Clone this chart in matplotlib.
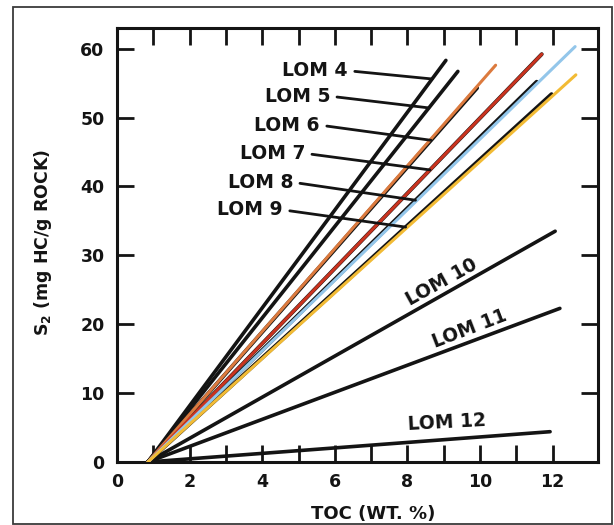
import matplotlib
matplotlib.use("Agg")
import matplotlib.pyplot as plt
from matplotlib.patches import Rectangle

# ---- data ----
lom_names = ["LOM 4", "LOM 5", "LOM 6", "LOM 7", "LOM 8", "LOM 9", "LOM 10", "LOM 11", "LOM 12"]
start_x = 0.85
start_y = 0.0
lom_end_x = [9.06, 9.39, 9.92, 11.70, 11.56, 11.97, 12.07, 12.20, 11.93]
lom_end_y = [58.3, 56.7, 54.3, 59.2, 55.2, 53.4, 33.5, 22.3, 4.4]

overlay_names = ["LOM 6", "LOM 7", "LOM 8", "LOM 9"]
overlay_end_x = [10.43, 11.70, 12.62, 12.64]
overlay_end_y = [57.6, 59.2, 60.3, 56.2]
overlay_colors = ["#dc7a3e", "#c9331f", "#93c6ea", "#f2bb35"]

x_major = [0, 2, 4, 6, 8, 10, 12]
x_minor = [1, 3, 5, 7, 9, 11]
y_major = [0, 10, 20, 30, 40, 50, 60]

# leader-labelled lines: label text anchor (right edge) and leader end height
leader_names = ["LOM 4", "LOM 5", "LOM 6", "LOM 7", "LOM 8", "LOM 9"]
leader_text_x = [6.36, 5.87, 5.59, 5.18, 4.85, 4.57]
leader_text_y = [56.8, 53.1, 48.9, 44.8, 40.6, 36.6]
leader_end_y = [55.6, 51.4, 46.7, 42.4, 38.0, 34.1]

# rotated labels along lines
rot_names = ["LOM 10", "LOM 11", "LOM 12"]
rot_x = [8.93, 9.72, 9.09]
rot_y = [26.1, 19.4, 5.7]
rot_angle = [29, 21, 3]

# ---- figure ----
fig = plt.figure(figsize=(6.14, 5.25), dpi=100)
ax = fig.add_axes([117 / 614, 1 - 462 / 525, (598 - 117) / 614, (462 - 28) / 525])

ink = "#141414"
for i, name in enumerate(lom_names):
    ax.plot([start_x, lom_end_x[i]], [start_y, lom_end_y[i]], color=ink,
            lw=2.6 if name not in overlay_names else 2.8,
            solid_capstyle="round", zorder=3)
for i, name in enumerate(overlay_names):
    ax.plot([start_x, overlay_end_x[i]], [start_y, overlay_end_y[i]], color=overlay_colors[i],
            lw=2.2, solid_capstyle="round", zorder=4)

lab_font = dict(family="DejaVu Sans", fontweight="bold", fontsize=13.5, color=ink)

for i, name in enumerate(leader_names):
    j = lom_names.index(name)
    slope = (lom_end_y[j] - start_y) / (lom_end_x[j] - start_x)
    tx = start_x + (leader_end_y[i] - start_y) / slope
    ax.annotate(name, xy=(tx, leader_end_y[i]), xytext=(leader_text_x[i], leader_text_y[i]),
                ha="right", va="center", zorder=5,
                arrowprops=dict(arrowstyle="-", lw=2.0, color=ink, relpos=(1.0, 0.5),
                                shrinkA=3, shrinkB=0),
                **lab_font)

for i, name in enumerate(rot_names):
    ax.text(rot_x[i], rot_y[i], name, rotation=rot_angle[i], ha="center", va="center",
            rotation_mode="anchor", zorder=5, **lab_font)

ax.set_xlim(0, 13.25)
ax.set_ylim(0, 63)

ax.set_xticks(x_major)
ax.set_xticks(x_minor, minor=True)
ax.set_yticks(y_major)
ax.set_xticklabels([str(v) for v in x_major])
ax.set_yticklabels([str(v) for v in y_major])

ax.tick_params(axis="both", which="both", direction="in", length=12, width=2.0, color=ink,
               top=True, right=True, labelsize=12.5, labelcolor=ink)
ax.tick_params(axis="x", which="major", pad=8)
ax.tick_params(axis="y", which="major", pad=9)
for lab in ax.get_xticklabels() + ax.get_yticklabels():
    lab.set_fontweight("bold")

for sp in ax.spines.values():
    sp.set_linewidth(2.2)
    sp.set_color(ink)

ax.set_xlabel("TOC (WT. %)", fontsize=13, fontweight="bold", color=ink)
ax.xaxis.set_label_coords(0.532, -0.098)
ax.set_ylabel(r"S$_\mathbf{2}$ (mg HC/g ROCK)", fontsize=12.5, fontweight="bold", color=ink)
ax.yaxis.set_label_coords(-0.13, 0.506)

# outer frame
fig.patches.append(Rectangle((13 / 614, 1 / 525), (612 - 13) / 614, (524 - 7) / 525,
                             transform=fig.transFigure, fill=False, lw=1.3,
                             edgecolor="#3a3a3a"))

fig.savefig("out.png", dpi=100, facecolor="white")
